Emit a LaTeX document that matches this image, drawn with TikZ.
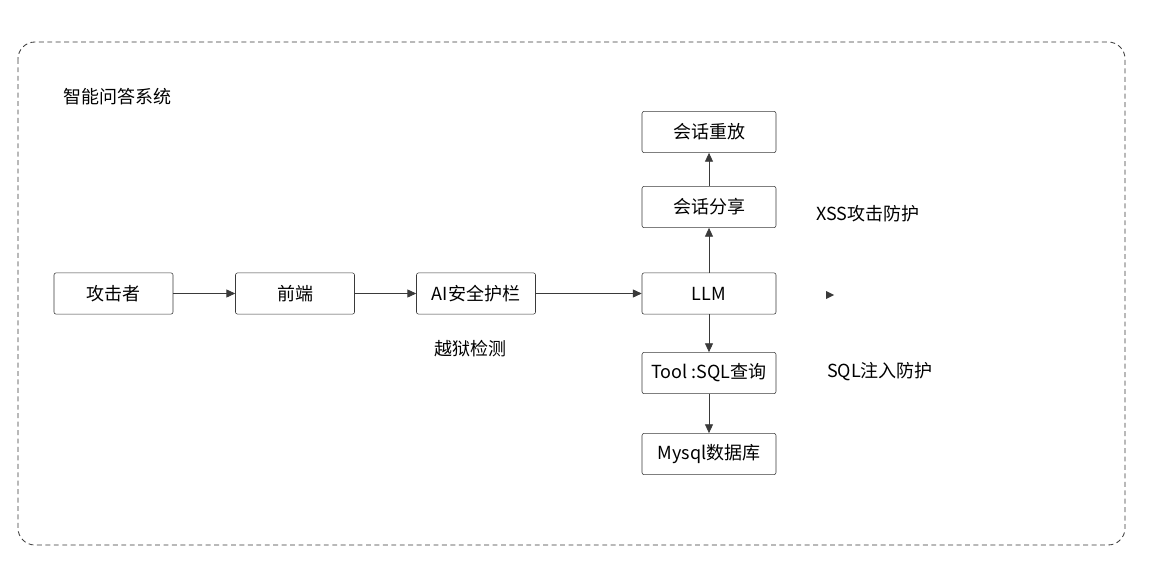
\documentclass[tikz,border=0pt]{standalone}
\usepackage{fontspec}
\setmainfont{Noto Sans CJK SC}
\usepackage{xcolor}
\usetikzlibrary{positioning,arrows.meta}
\definecolor{linegray}{HTML}{3A3A3A}

\begin{document}
\begin{tikzpicture}[x=0.025cm, y=-0.025cm,
  box/.style={draw=linegray, rounded corners=1.5pt, fill=white, minimum width=2.975cm,
              minimum height=1.03cm, font=\fontsize{12.8}{14}\selectfont, inner sep=1pt, align=center},
  wbox/.style={box, minimum width=3.35cm},
  arr/.style={-{Triangle[length=2.2mm, width=2mm]}, semithick, linegray},
  lbl/.style={font=\fontsize{12.8}{14}\selectfont, inner sep=1pt},
]
\useasboundingbox (0,0) rectangle (1162,573);

% outer dashed frame
\draw[linegray, line width=0.6pt, dash pattern=on 3.5pt off 2.5pt, rounded corners=12pt]
  (18,42) rectangle (1125,545);
\node[lbl] (title) at (117,97) {智能问答系统};

% main chain on the left
\node[box] (att) at (113.5,293.5) {攻击者};
\node[box] (fe)  at (295,293.5)   {前端};
\node[box] (ai)  at (476,293.5)   {AI安全护栏};
\node[lbl] (jb)  at (470,349)     {越狱检测};

% LLM column
\node[wbox] (llm) at (709,293.5) {LLM};
\node[wbox] (sh)  at (709,207)   {会话分享};
\node[wbox] (rp)  at (709,132)   {会话重放};
\node[wbox] (sql) at (709,373)   {Tool :SQL查询};
\node[wbox] (db)  at (709,454)   {Mysql数据库};

\node[lbl] (xss) at (868,214) {XSS攻击防护};
\node[lbl] (inj) at (880,372) {SQL注入防护};

% arrows
\draw[arr] (att) -- (fe);
\draw[arr] (fe) -- (ai);
\draw[arr] (ai) -- (llm);
\draw[arr] (llm) -- (sh);
\draw[arr] (sh) -- (rp);
\draw[arr] (llm) -- (sql);
\draw[arr] (sql) -- (db);

% stray arrow tip
\coordinate (tip) at (834,295);
\fill[linegray] (tip) -- ++(-8,-4) -- ++(0,8) -- cycle;
\end{tikzpicture}
\end{document}
